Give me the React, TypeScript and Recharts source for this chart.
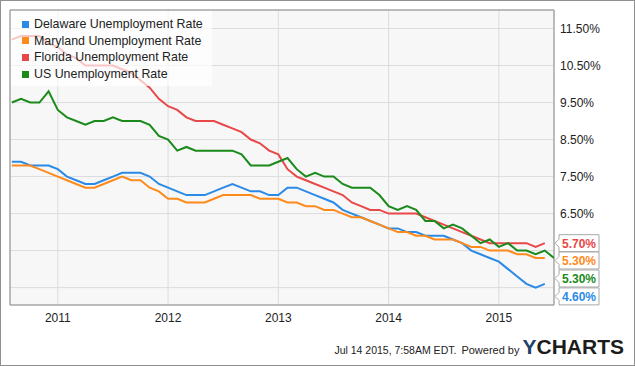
import {
  LineChart,
  Line,
  XAxis,
  YAxis,
  CartesianGrid,
  ReferenceArea,
  ReferenceDot,
} from "recharts";

// plotted month (YCharts puts each monthly value at the start of the next month)
const months = [
  "2010-08", "2010-09", "2010-10", "2010-11", "2010-12",
  "2011-01", "2011-02", "2011-03", "2011-04", "2011-05", "2011-06",
  "2011-07", "2011-08", "2011-09", "2011-10", "2011-11", "2011-12",
  "2012-01", "2012-02", "2012-03", "2012-04", "2012-05", "2012-06",
  "2012-07", "2012-08", "2012-09", "2012-10", "2012-11", "2012-12",
  "2013-01", "2013-02", "2013-03", "2013-04", "2013-05", "2013-06",
  "2013-07", "2013-08", "2013-09", "2013-10", "2013-11", "2013-12",
  "2014-01", "2014-02", "2014-03", "2014-04", "2014-05", "2014-06",
  "2014-07", "2014-08", "2014-09", "2014-10", "2014-11", "2014-12",
  "2015-01", "2015-02", "2015-03", "2015-04", "2015-05", "2015-06",
  "2015-07",
];

const delaware = [
  7.9, 7.9, 7.8, 7.8, 7.8,
  7.7, 7.5, 7.4, 7.3, 7.3, 7.4, 7.5, 7.6, 7.6, 7.6, 7.5, 7.3,
  7.2, 7.1, 7.0, 7.0, 7.0, 7.1, 7.2, 7.3, 7.2, 7.1, 7.1, 7.0,
  7.0, 7.2, 7.2, 7.1, 7.0, 6.9, 6.8, 6.6, 6.5, 6.4, 6.3, 6.2,
  6.1, 6.1, 6.0, 6.0, 5.9, 5.9, 5.9, 5.8, 5.7, 5.5, 5.4, 5.3,
  5.2, 5.0, 4.8, 4.6, 4.5, 4.6,
];

const maryland = [
  7.8, 7.8, 7.8, 7.7, 7.6,
  7.5, 7.4, 7.3, 7.2, 7.2, 7.3, 7.4, 7.5, 7.4, 7.4, 7.2, 7.1,
  6.9, 6.9, 6.8, 6.8, 6.8, 6.9, 7.0, 7.0, 7.0, 7.0, 6.9, 6.9,
  6.9, 6.8, 6.8, 6.7, 6.7, 6.6, 6.6, 6.5, 6.4, 6.4, 6.3, 6.2,
  6.1, 6.0, 6.0, 5.9, 5.9, 5.8, 5.8, 5.8, 5.7, 5.6, 5.6, 5.5,
  5.5, 5.5, 5.4, 5.4, 5.3, 5.3,
];

const florida = [
  11.2, 11.3, 11.3, 11.3, 11.1,
  11.0, 10.8, 10.7, 10.5, 10.5, 10.5, 10.5, 10.4, 10.3, 10.1, 9.9, 9.6,
  9.4, 9.3, 9.1, 9.0, 9.0, 9.0, 8.9, 8.8, 8.7, 8.5, 8.4, 8.2,
  8.1, 7.7, 7.5, 7.4, 7.3, 7.2, 7.1, 7.0, 6.8, 6.7, 6.6, 6.6,
  6.5, 6.5, 6.5, 6.5, 6.4, 6.3, 6.2, 6.1, 6.0, 5.9, 5.8, 5.7,
  5.7, 5.7, 5.7, 5.7, 5.6, 5.7,
];

const us = [
  9.5, 9.6, 9.5, 9.5, 9.8,
  9.3, 9.1, 9.0, 8.9, 9.0, 9.0, 9.1, 9.0, 9.0, 9.0, 8.9, 8.6,
  8.5, 8.2, 8.3, 8.2, 8.2, 8.2, 8.2, 8.2, 8.1, 7.8, 7.8, 7.8,
  7.9, 8.0, 7.7, 7.5, 7.6, 7.5, 7.5, 7.3, 7.2, 7.2, 7.2, 7.0,
  6.7, 6.6, 6.7, 6.6, 6.3, 6.3, 6.1, 6.2, 6.1, 5.9, 5.7, 5.8,
  5.6, 5.7, 5.5, 5.5, 5.4, 5.5, 5.3,
];

const yTicks = [4.5, 5.5, 6.5, 7.5, 8.5, 9.5, 10.5, 11.5];
const hiddenYTicks = [4.5, 5.5];
const yearTicks = [0, 12, 24, 36, 48];
const yearLabels = ["2011", "2012", "2013", "2014", "2015"];

const series = [
  { key: "delaware", name: "Delaware Unemployment Rate", color: "#2a8ae6", values: delaware },
  { key: "maryland", name: "Maryland Unemployment Rate", color: "#ff8a1c", values: maryland },
  { key: "florida", name: "Florida Unemployment Rate", color: "#e84848", values: florida },
  { key: "us", name: "US Unemployment Rate", color: "#1a8a1a", values: us },
];

// flag order top to bottom, and how far each is nudged so they don't overlap
const flags = [
  { key: "florida", dy: 0 },
  { key: "maryland", dy: 2.5 },
  { key: "us", dy: 20.5 },
  { key: "delaware", dy: 12.5 },
];

const monthIndex = (d: string) => {
  const [y, m] = d.split("-").map(Number);
  return (y - 2011) * 12 + (m - 1);
};

const data = months.map((d, i) => {
  const row: Record<string, number | null> = { m: monthIndex(d) };
  series.forEach((s) => {
    row[s.key] = s.values[i] ?? null;
  });
  return row;
});

const X_MIN = -5.2;
const X_MAX = 54;
const Y_MIN = 4.03;
const Y_MAX = 12;

const FONT = "'Liberation Sans', Arial, sans-serif";

function Flag(props: any) {
  const { cx, cy, dy, color, text } = props;
  const y = cy + dy;
  const x0 = cx + 5;
  const w = 40;
  const h = 17;
  const d = `M${x0},${y - h / 2} H${x0 + w} V${y + h / 2} H${x0} V${y + 4} L${x0 - 4},${y} L${x0},${y - 4} Z`;
  return (
    <g>
      <path d={d} fill="#fff" stroke="#a8a8a8" strokeWidth={1} />
      <text
        x={x0 + 3}
        y={y}
        dy="0.36em"
        fill={color}
        fontSize={12}
        fontWeight="bold"
        fontFamily={FONT}
      >
        {text}
      </text>
    </g>
  );
}

export default function App() {
  return (
    <div
      style={{
        position: "relative",
        width: 635,
        height: 366,
        boxSizing: "border-box",
        border: "1px solid #8f8f8f",
        background: "#fff",
        fontFamily: FONT,
        overflow: "hidden",
      }}
    >
      <style>{`html, body { margin: 0; padding: 0; }`}</style>

      <div style={{ position: "absolute", left: -1, top: -1 }}>
        <LineChart
          width={635}
          height={366}
          data={data}
          margin={{ top: 10, right: 10, bottom: 31, left: 10 }}
        >
          <CartesianGrid stroke="#dcdcdc" fill="#f7f7f7" fillOpacity={1} />

          <XAxis
            dataKey="m"
            type="number"
            domain={[X_MIN, X_MAX]}
            allowDataOverflow
            ticks={yearTicks}
            tickFormatter={(v: number) => yearLabels[yearTicks.indexOf(v)] ?? ""}
            axisLine={false}
            tickLine={false}
            height={30}
            tick={{ fontSize: 12, fill: "#222", fontFamily: FONT }}
          />

          <YAxis
            orientation="right"
            domain={[Y_MIN, Y_MAX]}
            allowDataOverflow
            ticks={yTicks}
            tickFormatter={(v: number) =>
              hiddenYTicks.includes(v) ? "" : `${v.toFixed(2)}%`
            }
            axisLine={false}
            tickLine={false}
            tickSize={0}
            tickMargin={6}
            width={71}
            tick={{ fontSize: 12, fill: "#222", fontFamily: FONT, textAnchor: "start" }}
          />

          {series.map((s) => (
            <Line
              key={s.key}
              type="linear"
              dataKey={s.key}
              stroke={s.color}
              strokeWidth={2}
              dot={false}
              activeDot={false}
              isAnimationActive={false}
            />
          ))}

          <ReferenceArea
            x1={X_MIN}
            x2={X_MAX}
            y1={Y_MIN}
            y2={Y_MAX}
            fill="none"
            stroke="#8c8c8c"
            strokeWidth={1}
            ifOverflow="visible"
          />

          {flags.map((f) => {
            const s = series.find((x) => x.key === f.key)!;
            const last = s.values[s.values.length - 1];
            return (
              <ReferenceDot
                key={f.key}
                x={X_MAX}
                y={last}
                r={0}
                ifOverflow="visible"
                shape={(p: any) => (
                  <Flag
                    cx={p.cx}
                    cy={p.cy}
                    dy={f.dy}
                    color={s.color}
                    text={`${last.toFixed(2)}%`}
                  />
                )}
              />
            );
          })}
        </LineChart>
      </div>

      {/* Legend */}
      <div
        style={{
          position: "absolute",
          left: 10,
          top: 10,
          width: 201,
          height: 75,
          background: "rgba(255,255,255,0.68)",
        }}
      >
        {series.map((s, i) => (
          <div
            key={s.key}
            style={{
              position: "absolute",
              left: 11,
              top: 5 + i * 16.7,
              height: 16,
              display: "flex",
              alignItems: "center",
              fontSize: 12.4,
              color: "#222",
              whiteSpace: "nowrap",
            }}
          >
            <span
              style={{
                display: "inline-block",
                width: 7,
                height: 7,
                background: s.color,
                marginRight: 5,
              }}
            />
            {s.name}
          </div>
        ))}
      </div>

      {/* Footer */}
      <div
        style={{
          position: "absolute",
          right: 10,
          top: 334,
          display: "flex",
          alignItems: "baseline",
          whiteSpace: "nowrap",
          color: "#222",
          lineHeight: "24px",
        }}
      >
        <span style={{ fontSize: 10.5 }}>Jul 14 2015, 7:58AM EDT.</span>
        <span style={{ fontSize: 11, marginLeft: 5 }}>Powered by</span>
        <span style={{ fontSize: 21, fontWeight: "bold", marginLeft: 3 }}>
          <span style={{ color: "#233f6b" }}>Y</span>
          <span style={{ color: "#1c1c1c" }}>CHARTS</span>
        </span>
      </div>
    </div>
  );
}
